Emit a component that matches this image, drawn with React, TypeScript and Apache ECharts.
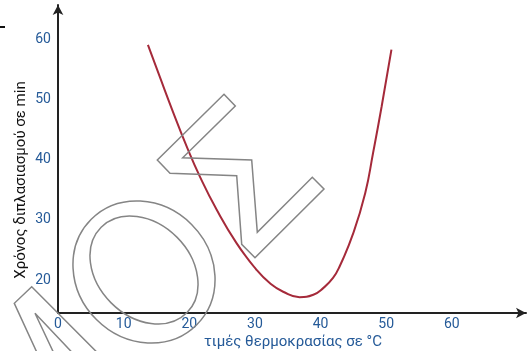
import React, { useEffect, useRef } from "react";
import * as echarts from "echarts";

const temperatures = [13.7, 15.5, 17.5, 19.6, 21.6, 24.2, 27.2, 30.2, 32.3, 34.3, 36.8, 38.9, 40.4, 41.9, 42.9, 45.0, 46.8, 48.0, 49.3, 50.8];
const doublingTimes = [58.9, 53.6, 47.8, 42.0, 37.0, 31.4, 25.9, 21.5, 19.2, 17.8, 16.9, 17.3, 18.4, 20.1, 22.0, 27.6, 34.2, 40.9, 48.6, 58.1];
const xTicks = [0, 10, 20, 30, 40, 50, 60];
const yTicks = [20, 30, 40, 50, 60];
const xTitle = "τιμές θερμοκρασίας σε °C";
const yTitle = "Χρόνος διπλασιασμού σε min";

const BLUE = "#255a98";
const GRAY = "#858585";

export default function App() {
  const ref = useRef<HTMLDivElement>(null);
  useEffect(() => {
    if (!ref.current) return;
    const chart = echarts.init(ref.current, null, { renderer: "svg" });
    const data = temperatures.map((t, i) => [t, doublingTimes[i]]);
    chart.setOption({
      animation: false,
      textStyle: { fontFamily: "Roboto" },
      grid: { left: 58, right: 1, top: 5, bottom: 38, containLabel: false },
      xAxis: {
        type: "value",
        min: 0,
        max: 71.3,
        interval: 10,
        splitLine: { show: false },
        axisTick: { show: false },
        axisLine: {
          show: true,
          lineStyle: { color: "#222", width: 2 },
          symbol: ["none", "arrow"],
          symbolSize: [8, 10],
        },
        axisLabel: {
          color: BLUE,
          fontSize: 14,
          margin: 3,
          customValues: xTicks,
          formatter: (v: number) => (xTicks.indexOf(v) >= 0 ? String(v) : ""),
        },
      },
      yAxis: {
        type: "value",
        min: 14.26,
        max: 65.54,
        splitLine: { show: false },
        axisTick: { show: false },
        axisLine: {
          show: true,
          lineStyle: { color: "#222", width: 2 },
          symbol: ["none", "arrow"],
          symbolSize: [8, 10],
        },
        axisLabel: {
          color: BLUE,
          fontSize: 14,
          margin: 7,
          customValues: yTicks,
          formatter: (v: number) => (yTicks.indexOf(v) >= 0 ? String(v) : ""),
        },
      },
      series: [
        {
          type: "line",
          data,
          smooth: 0.5,
          showSymbol: false,
          lineStyle: { color: "#a52a3a", width: 2 },
          z: 3,
        },
      ],
      graphic: [
        {
          type: "text",
          x: 20,
          y: 180,
          rotation: Math.PI / 2,
          style: {
            text: yTitle,
            fill: "#111",
            font: "15px Roboto",
            align: "center",
            verticalAlign: "middle",
          },
        },
        {
          type: "text",
          x: 293,
          y: 341,
          style: {
            text: xTitle,
            fill: BLUE,
            font: "15px Roboto",
            align: "center",
            verticalAlign: "middle",
          },
        },
        {
          type: "line",
          shape: { x1: 0, y1: 27, x2: 5, y2: 27 },
          style: { stroke: "#111", lineWidth: 2 },
        },
        {
          type: "ellipse",
          x: 144,
          y: 272,
          rotation: -Math.PI / 4,
          shape: { cx: 0, cy: 0, rx: 74.6, ry: 67.3 },
          style: { fill: "none", stroke: GRAY, lineWidth: 1.5 },
          z: 10,
        },
        {
          type: "ellipse",
          x: 144,
          y: 270,
          rotation: -Math.PI / 4,
          shape: { cx: 0, cy: 0, rx: 60.6, ry: 46.5 },
          style: { fill: "none", stroke: GRAY, lineWidth: 1.5 },
          z: 10,
        },
        {
          type: "polygon",
          shape: {
            points: [
              [224, 94.3], [235.3, 106], [182.7, 157.7], [251.7, 160], [257.3, 232.3],
              [312.3, 177.3], [324, 189], [255, 257.7], [241.7, 244.3], [236.7, 175.7],
              [170, 173.3], [157.3, 160],
            ],
          },
          style: { fill: "none", stroke: GRAY, lineWidth: 1.5 },
          z: 10,
        },
        {
          type: "polyline",
          shape: { points: [[36.7, 352], [14.3, 303.3], [31.7, 286.7], [96.7, 352]] },
          style: { fill: "none", stroke: GRAY, lineWidth: 1.5 },
          z: 10,
        },
        {
          type: "polyline",
          shape: { points: [[53.3, 352], [35, 313.3], [71.7, 352]] },
          style: { fill: "none", stroke: GRAY, lineWidth: 1.5 },
          z: 10,
        },
      ],
    });
    return () => chart.dispose();
  }, []);
  return <div ref={ref} style={{ width: 527, height: 351, position: "fixed", left: 0, top: 0 }} />;
}
